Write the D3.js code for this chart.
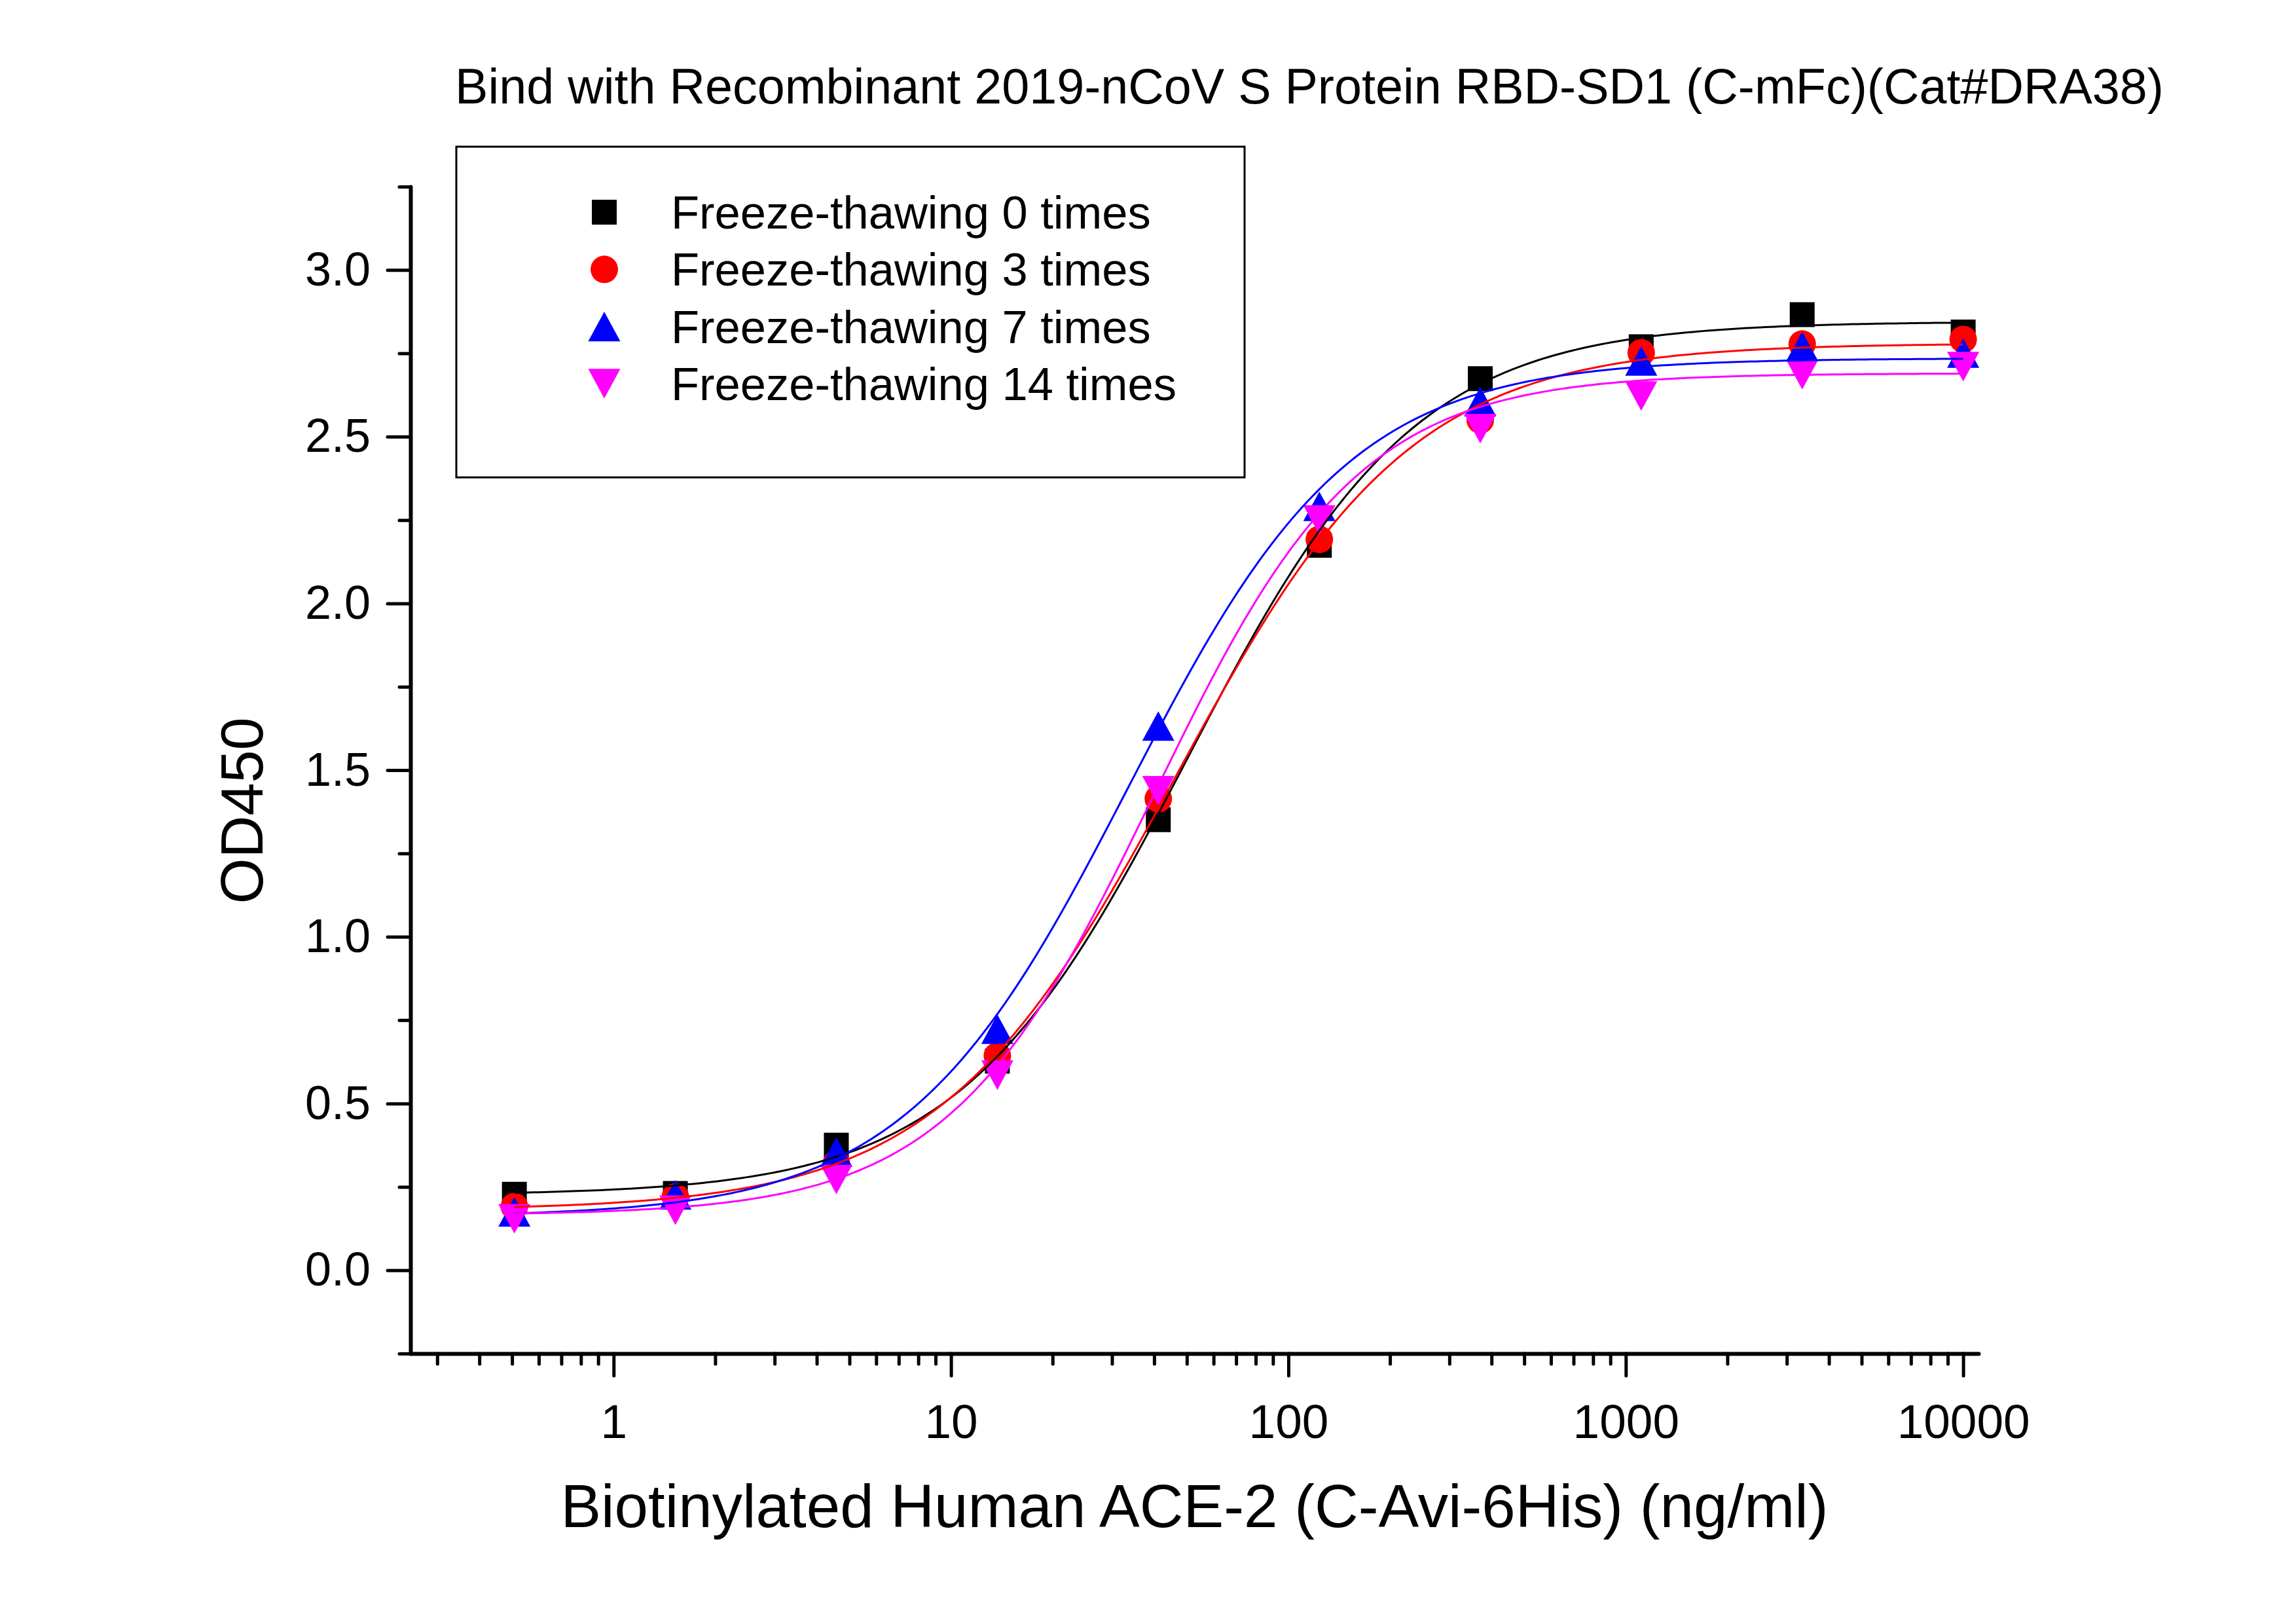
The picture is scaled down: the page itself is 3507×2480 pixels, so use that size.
<!DOCTYPE html>
<html>
<head>
<meta charset="utf-8">
<script src="https://cdn.jsdelivr.net/npm/d3@7"></script>
<style>
  body { margin: 0; background: #fff; }
  text { font-family: "Liberation Sans", Arial, sans-serif; fill: #000; }
</style>
</head>
<body>
<div id="chart"></div>
<script>
// data (3-fold dilution from 10000 ng/ml)
const concentrations = [0.508, 1.524, 4.572, 13.72, 41.15, 123.5, 370.4, 1111, 3333, 10000];
const seriesNames = ["Freeze-thawing 0 times", "Freeze-thawing 3 times", "Freeze-thawing 7 times", "Freeze-thawing 14 times"];
const od0 = [0.228, 0.230, 0.375, 0.627, 1.351, 2.174, 2.674, 2.770, 2.866, 2.814];
const od3 = [0.191, 0.220, 0.320, 0.643, 1.414, 2.192, 2.550, 2.752, 2.778, 2.792];
const od7 = [0.175, 0.226, 0.354, 0.723, 1.632, 2.291, 2.605, 2.727, 2.771, 2.751];
const od14 = [0.154, 0.180, 0.272, 0.585, 1.438, 2.250, 2.524, 2.622, 2.686, 2.710];

// 4PL fit curves: [bottom, top, EC50, hill]
const fit0 = [0.225, 2.845, 50.2, 1.285];
const fit3 = [0.180, 2.780, 46.3, 1.24];
const fit7 = [0.160, 2.735, 33.5, 1.315];
const fit14 = [0.165, 2.690, 40.0, 1.43];

const xTickValues = [1, 10, 100, 1000, 10000];
const yTickValues = [0.0, 0.5, 1.0, 1.5, 2.0, 2.5, 3.0];

const titleText = "Bind with Recombinant 2019-nCoV S Protein RBD-SD1 (C-mFc)(Cat#DRA38)";
const xTitle = "Biotinylated Human ACE-2 (C-Avi-6His) (ng/ml)";
const yTitle = "OD450";

const width = 3507;
const height = 2480;

// custom triangle symbols (origin style: a bit wider than tall)
const triUp = {
  draw(ctx, size) {
    const w = Math.sqrt(size) * 1.09, h = w * 0.92;
    ctx.moveTo(0, -h / 2);
    ctx.lineTo(w / 2, h / 2);
    ctx.lineTo(-w / 2, h / 2);
    ctx.closePath();
  }
};
const triDown = {
  draw(ctx, size) {
    const w = Math.sqrt(size) * 1.09, h = w * 0.92;
    ctx.moveTo(0, h / 2);
    ctx.lineTo(w / 2, -h / 2);
    ctx.lineTo(-w / 2, -h / 2);
    ctx.closePath();
  }
};

const series = [
  { name: seriesNames[0], values: od0, fit: fit0, color: "#000000", symbol: d3.symbolSquare, size: 38 * 38 },
  { name: seriesNames[1], values: od3, fit: fit3, color: "#ff0000", symbol: d3.symbolCircle, size: Math.PI * 21 * 21 },
  { name: seriesNames[2], values: od7, fit: fit7, color: "#0000ff", symbol: triUp, size: 45 * 45 },
  { name: seriesNames[3], values: od14, fit: fit14, color: "#ff00ff", symbol: triDown, size: 45 * 45 }
];

const plot = { left: 627, right: 3022, top: 285, bottom: 2067 };

const x = d3.scaleLog().domain([0.25, 11100]).range([plot.left, plot.right]);
const y = d3.scaleLinear().domain([-0.25, 3.25]).range([plot.bottom, plot.top]);

const svg = d3.select("#chart").append("svg")
  .attr("width", width)
  .attr("height", height);

svg.append("rect").attr("width", width).attr("height", height).attr("fill", "#fff");

// ---- axes ----
const styleAxis = (g, w) => {
  g.selectAll("path.domain").attr("stroke", "#000").attr("stroke-width", 6).attr("stroke-linecap", "round");
  g.selectAll(".tick line").attr("stroke", "#000").attr("stroke-width", w).attr("stroke-linecap", "round");
};

// x minor ticks (from the log scale's own ticks)
const xMinor = x.ticks().filter(v => !xTickValues.includes(v));
svg.append("g")
  .attr("transform", `translate(0,${plot.bottom})`)
  .call(d3.axisBottom(x).tickValues(xMinor).tickSize(16).tickSizeOuter(0).tickFormat(""))
  .call(g => { styleAxis(g, 5); g.select("path.domain").remove(); });

svg.append("g")
  .attr("transform", `translate(0,${plot.bottom})`)
  .call(d3.axisBottom(x).tickValues(xTickValues).tickSize(34).tickSizeOuter(0).tickPadding(43).tickFormat(d3.format("d")))
  .call(g => {
    styleAxis(g, 5);
    g.selectAll("text").attr("font-size", 73).attr("font-family", "Liberation Sans, Arial, sans-serif").attr("dy", "0.71em");
  });

// y minor ticks
const yMinor = d3.range(-0.25, 3.26, 0.25).filter(v => Math.abs(v * 2 - Math.round(v * 2)) > 0.01);
svg.append("g")
  .attr("transform", `translate(${plot.left},0)`)
  .call(d3.axisLeft(y).tickValues(yMinor).tickSize(17).tickSizeOuter(0).tickFormat(""))
  .call(g => { styleAxis(g, 5); g.select("path.domain").remove(); });

svg.append("g")
  .attr("transform", `translate(${plot.left},0)`)
  .call(d3.axisLeft(y).tickValues(yTickValues).tickSize(35).tickSizeOuter(0).tickPadding(26).tickFormat(d3.format(".1f")))
  .call(g => {
    styleAxis(g, 5);
    g.selectAll("text").attr("font-size", 72).attr("font-family", "Liberation Sans, Arial, sans-serif");
  });

// ---- markers ----
series.forEach(s => {
  svg.append("g").selectAll("path")
    .data(s.values)
    .join("path")
    .attr("d", d3.symbol().type(s.symbol).size(s.size))
    .attr("transform", (v, i) => `translate(${x(concentrations[i])},${y(v)})`)
    .attr("fill", s.color);
});

// ---- fitted 4PL curves (drawn on top of the markers like origin does) ----
const logistic = (p, c) => p[0] + (p[1] - p[0]) / (1 + Math.pow(p[2] / c, p[3]));
const lo = Math.log10(concentrations[0]);
const hi = Math.log10(concentrations[concentrations.length - 1]);
const curveX = d3.range(0, 301).map(i => Math.pow(10, lo + (hi - lo) * i / 300));

const line = d3.line()
  .x(d => x(d.c))
  .y(d => y(d.v));

series.forEach(s => {
  svg.append("path")
    .attr("fill", "none")
    .attr("stroke", s.color)
    .attr("stroke-width", 3)
    .attr("d", line(curveX.map(c => ({ c: c, v: logistic(s.fit, c) }))));
});

// ---- legend ----
const legend = svg.append("g");
legend.append("rect")
  .attr("x", 697).attr("y", 224)
  .attr("width", 1204).attr("height", 505)
  .attr("fill", "none").attr("stroke", "#000").attr("stroke-width", 3);

series.forEach((s, i) => {
  const ly = 324 + i * 87.3;
  legend.append("path")
    .attr("d", d3.symbol().type(s.symbol).size(s.size))
    .attr("transform", `translate(923,${ly})`)
    .attr("fill", s.color);
  legend.append("text")
    .attr("x", 1025).attr("y", ly + 25)
    .attr("font-size", 70.5)
    .text(s.name);
});

// ---- titles ----
svg.append("text")
  .attr("x", 2000).attr("y", 158)
  .attr("text-anchor", "middle")
  .attr("font-size", 75.5)
  .text(titleText);

svg.append("text")
  .attr("x", (plot.left + plot.right) / 2).attr("y", 2332)
  .attr("text-anchor", "middle")
  .attr("font-size", 92.5)
  .text(xTitle);

svg.append("text")
  .attr("transform", "translate(401,1238) rotate(-90)")
  .attr("text-anchor", "middle")
  .attr("font-size", 90)
  .text(yTitle);
</script>
</body>
</html>
